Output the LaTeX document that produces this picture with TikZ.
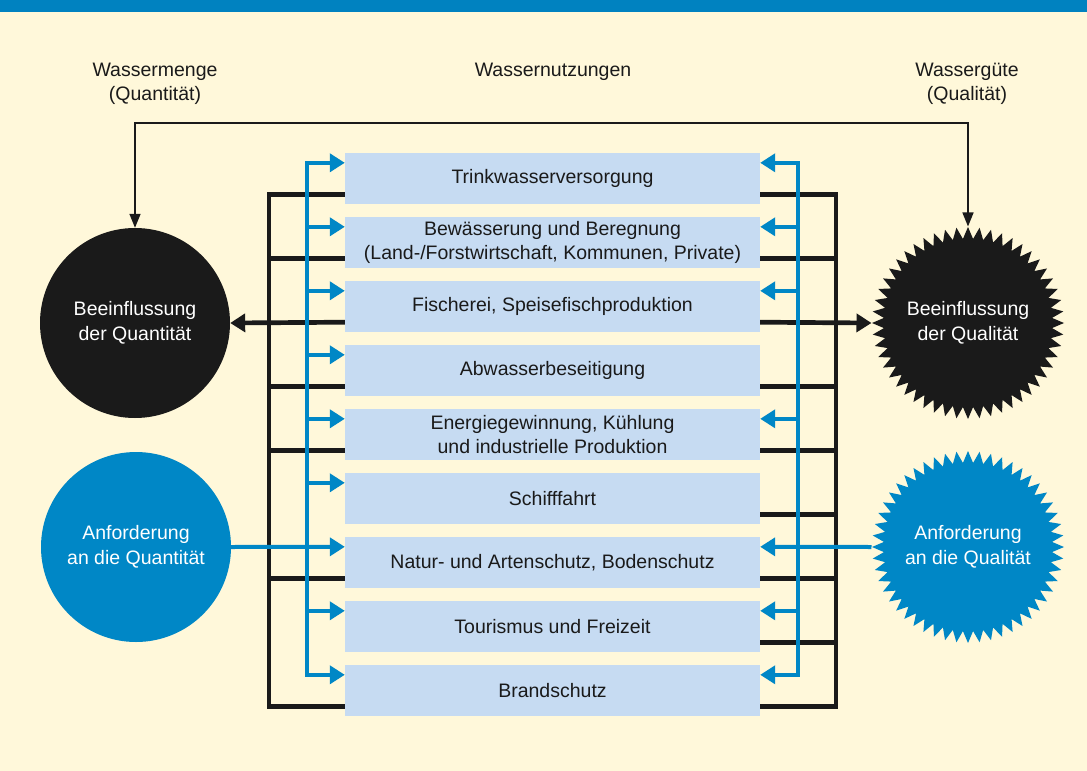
\documentclass[tikz,border=0pt]{standalone}
\usepackage{fontspec}
\setmainfont{Liberation Sans}
\usetikzlibrary{arrows.meta,shapes.geometric}
\definecolor{bg}{HTML}{FFF8DA}
\definecolor{band}{HTML}{0082C0}
\definecolor{boxfill}{HTML}{C6DBF2}
\definecolor{ink}{HTML}{1A1A1A}
\definecolor{flow}{HTML}{0087C6}
\begin{document}
\begin{tikzpicture}[x=1pt,y=-1pt,
  txt/.style={font=\fontsize{19.5}{24.5}\selectfont, align=center, text=ink},
  usagebox/.style={txt, fill=boxfill, minimum width=415pt, minimum height=51pt, inner sep=0pt},
  blk/.style={draw=ink, line width=4.7pt},
  blu/.style={draw=flow, line width=4pt},
  tipB/.style={-{Triangle[length=15pt,width=18pt]}},
  roundnode/.style={circle, minimum size=190pt, inner sep=0pt, txt, text=white},
  burst/.style={star, star points=52, star point ratio=1.14, minimum size=192pt, inner sep=0pt},
  bursttext/.style={txt, text=white, inner sep=0pt},
]
% canvas and top band
\fill[bg] (0,0) rectangle (1087,771);
\useasboundingbox (0,0) rectangle (1087,771);
\fill[band] (0,0) rectangle (1087,12);

% column headings
\node[txt] (hq) at (155,84) {Wassermenge\\(Quantität)};
\node[txt] (hn) at (553,72) {Wassernutzungen};
\node[txt] (hg) at (967,84) {Wassergüte\\(Qualität)};

% water uses
\node[usagebox] (b1) at (552.5,178.5) {Trinkwasserversorgung};
\node[usagebox] (b2) at (552.5,242.5) {Bewässerung und Beregnung\\(Land-/Forstwirtschaft, Kommunen, Private)};
\node[usagebox] (b3) at (552.5,306.5) {Fischerei, Speisefischproduktion};
\node[usagebox] (b4) at (552.5,370.5) {Abwasserbeseitigung};
\node[usagebox] (b5) at (552.5,434.5) {Energiegewinnung, Kühlung\\und industrielle Produktion};
\node[usagebox] (b6) at (552.5,498.5) {Schifffahrt};
\node[usagebox] (b7) at (552.5,562.5) {Natur- und Artenschutz, Bodenschutz};
\node[usagebox] (b8) at (552.5,626.5) {Tourismus und Freizeit};
\node[usagebox] (b9) at (552.5,690.5) {Brandschutz};

% quantity discs and quality starbursts
\node[roundnode, fill=ink] (qn) at (135,323) {Beeinflussung\\der Quantität};
\node[roundnode, fill=flow] (qa) at (136,547) {Anforderung\\an die Quantität};
\node[burst, fill=ink] (ln) at (968,323) {};
\node[bursttext] (lnt) at (ln.center) {Beeinflussung\\der Qualität};
\node[burst, fill=flow] (la) at (968,547) {};
\node[bursttext] (lat) at (la.center) {Anforderung\\an die Qualität};

% attachment points on each box
\foreach \i in {1,...,9}{
  \coordinate (kl\i) at ([yshift=10pt]b\i.south west);
  \coordinate (kr\i) at ([yshift=10pt]b\i.south east);
  \coordinate (ul\i) at ([yshift=-10pt]b\i.north west);
  \coordinate (ur\i) at ([yshift=-10pt]b\i.north east);
}
\coordinate (busL) at (269,0);
\coordinate (busR) at (836,0);
\coordinate (bbL) at (307,0);
\coordinate (bbR) at (798,0);
\coordinate (topY) at (0,123);

% link between quantity and quality
\draw[ink, line width=1.5pt, {Triangle[length=14pt,width=11pt]}-{Triangle[length=14pt,width=11pt]}]
  (qn.north) -- (qn.north |- topY) -- (ln.north |- topY) -- (ln.north);

% black buses
\draw[blk] (kl1) -- (kl1 -| busL) -- (kl9 -| busL) -- (kl9);
\foreach \i in {2,4,5,7} \draw[blk] (kl\i) -- (kl\i -| busL);
\draw[blk, {Triangle[length=15pt,width=18pt]}-] (qn.east) -- (kl3);
\draw[blk] (kr1) -- (kr1 -| busR) -- (kr9 -| busR) -- (kr9);
\foreach \i in {2,4,5,6,7,8} \draw[blk] (kr\i) -- (kr\i -| busR);
\draw[blk, tipB] (kr3) -- (ln.west);

% blue buses
\draw[blu, line cap=rect] (ul1 -| bbL) -- (ul9 -| bbL);
\foreach \i in {1,...,6,8,9} \draw[blu, tipB] (ul\i -| bbL) -- (ul\i);
\draw[blu, tipB] (qa.east) -- (ul7);
\draw[blu, line cap=rect] (ur1 -| bbR) -- (ur9 -| bbR);
\foreach \i in {1,2,3,5,8,9} \draw[blu, tipB] (ur\i -| bbR) -- (ur\i);
\draw[blu, tipB] (la.west) -- (ur7);
\end{tikzpicture}
\end{document}
